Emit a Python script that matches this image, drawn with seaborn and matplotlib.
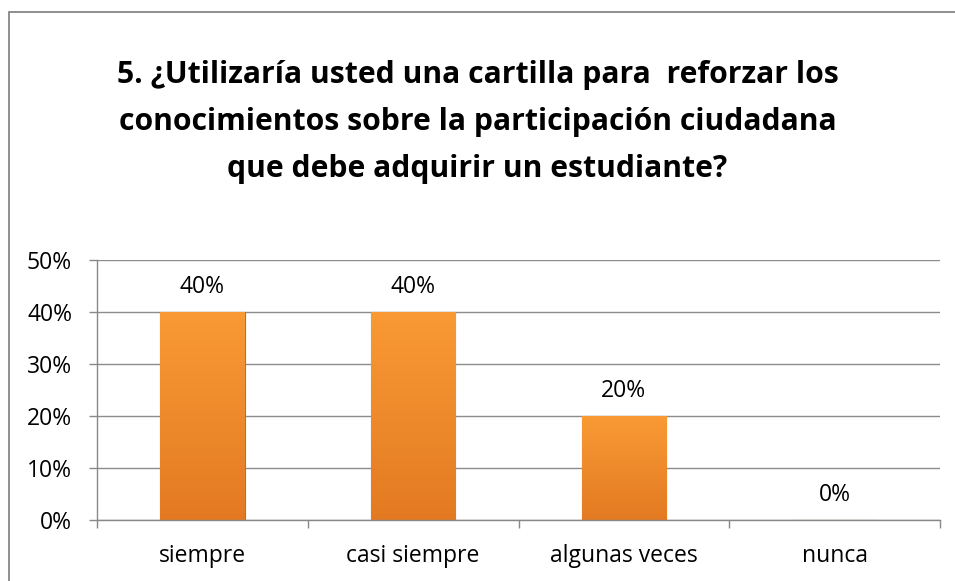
import matplotlib
matplotlib.use("Agg")
import matplotlib.pyplot as plt
import seaborn as sns
import numpy as np
import pandas as pd
from matplotlib.patches import Rectangle
from matplotlib.ticker import FixedLocator
from matplotlib.colors import LinearSegmentedColormap

categories = ["siempre", "casi siempre", "algunas veces", "nunca"]
values = [40, 40, 20, 0]
yticks = [0, 10, 20, 30, 40, 50]
ytick_labels = ["0%", "10%", "20%", "30%", "40%", "50%"]
title = ("5. ¿Utilizaría usted una cartilla para  reforzar los\n"
         "conocimientos sobre la participación ciudadana\n"
         "que debe adquirir un estudiante?")

sns.set_theme(style="white")
plt.rcParams['font.family'] = ['Open Sans', 'DejaVu Sans']
plt.rcParams['text.color'] = 'black'
plt.rcParams['xtick.color'] = 'black'
plt.rcParams['ytick.color'] = 'black'

df = pd.DataFrame({"cat": categories, "val": values})

fig = plt.figure(figsize=(9.55, 5.81), dpi=100)
ax = fig.add_axes([97/955, 1-520/581, (940-97)/955, 260/581])

sns.barplot(data=df, x="cat", y="val", ax=ax, color="#F28A2A", width=0.4,
            edgecolor="#C96A1C", linewidth=0.8, saturation=1)

# vertical gradient on bars
grad = np.linspace(0, 1, 256).reshape(-1, 1)
cmap = LinearSegmentedColormap.from_list("o", ["#E37A22", "#F99A35"])
for p in ax.patches:
    h = p.get_height()
    if h <= 0:
        continue
    x0 = p.get_x(); w = p.get_width()
    im = ax.imshow(grad, extent=[x0, x0 + w, 0, h], origin="lower", cmap=cmap,
                   aspect="auto", zorder=p.get_zorder() + 0.1)
    im.set_clip_path(p)

fs = 16.5
ax.set_xlim(-0.5, 3.5)
ax.set_ylim(0, 50)
ax.set_yticks(yticks)
ax.set_yticklabels(ytick_labels, fontsize=fs)
ax.set_xlabel("")
ax.set_ylabel("")
ax.tick_params(axis="x", labelsize=fs, length=0, pad=17, labelcolor="black")
ax.tick_params(axis="y", length=6, width=1, color="#888888", pad=12, left=True,
               labelcolor="black")
ax.xaxis.set_minor_locator(FixedLocator([-0.5, 0.5, 1.5, 2.5, 3.5]))
ax.tick_params(axis="x", which="minor", length=6, width=1, color="#888888", bottom=True)
ax.yaxis.grid(True, color="#8C8C8C", linewidth=1)
ax.set_axisbelow(True)
for s in ["top", "right"]:
    ax.spines[s].set_visible(False)
for s in ["left", "bottom"]:
    ax.spines[s].set_color("#888888")
    ax.spines[s].set_linewidth(1)

for i, v in enumerate(values):
    ax.text(i, v + 4.9, f"{v}%", ha="center", va="center", fontsize=fs, color="black")

fig.text(0.5, 1 - 122/581, title, ha="center", va="center", fontsize=21.7,
         fontweight="bold", linespacing=1.73, color="black")

fig.patches.append(Rectangle((9/955, -0.1), 1.2, 1 - 12/581 + 0.1,
                             transform=fig.transFigure, fill=False,
                             edgecolor="#878787", linewidth=1.3))

fig.savefig("out.png", dpi=100)
